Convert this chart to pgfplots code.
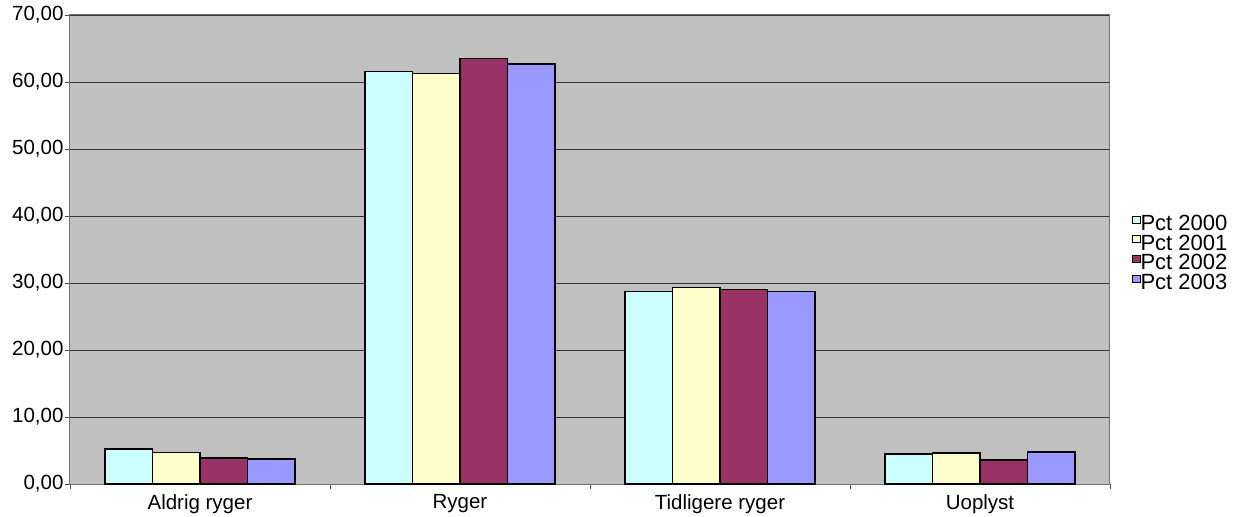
\documentclass[border=0pt]{standalone}
\usepackage{pgfplots}
\pgfplotsset{compat=1.18}
\usepackage{fontspec}
\setmainfont{Liberation Sans}
\definecolor{cA}{HTML}{CCFFFF}
\definecolor{cB}{HTML}{FFFFCC}
\definecolor{cC}{HTML}{993366}
\definecolor{cD}{HTML}{9999FF}
\definecolor{bg}{HTML}{C0C0C0}
\begin{document}
\begin{tikzpicture}
\begin{axis}[
  scale only axis, width=1040pt, height=469pt,
  ybar=0pt, bar width=0.1827,
  xmin=-0.5, xmax=3.5, ymin=0, ymax=70,
  xtick={0,1,2,3}, xticklabels={Aldrig ryger,Ryger,Tidligere ryger,Uoplyst},
  major x tick style={draw=none},
  minor xtick={-0.5,0.5,1.5,2.5,3.5},
  minor tick length=5pt,
  ytick={0,10,...,70},
  tick align=outside, major tick length=5pt,
  xtick pos=bottom, ytick pos=left,
  ymajorgrids, grid style={draw=black!80, line width=0.9pt},
  axis background/.style={fill=bg},
  axis line style={draw=black!55, line width=1pt},
  tick style={draw=black!70, line width=0.8pt},
  tick label style={font=\fontsize{20.5}{22}\selectfont},
  /pgf/number format/fixed, /pgf/number format/fixed zerofill,
  /pgf/number format/precision=2, /pgf/number format/use comma,
  /pgf/number format/assume math mode=true,
  xticklabel style={yshift=-2pt},
  yticklabel style={xshift=2pt},
  legend style={at={(1.018,0.488)}, anchor=west, draw=none, fill=none,
    font=\fontsize{22}{22}\selectfont, row sep=0pt,
    nodes={inner sep=0pt, text height=12pt, text depth=5pt}},
  legend cell align=left,
  legend image code/.code={\draw[#1, draw=black, line width=0.6pt] (0pt,4pt) rectangle (8pt,11pt);},
  every axis plot/.append style={draw=black, line width=1.5pt},
  /tikz/every even column/.append style={column sep=3pt},
]
\addplot[fill=cA] coordinates {(0,5.2) (1,61.6) (2,28.7) (3,4.5)};
\addplot[fill=cB] coordinates {(0,4.7) (1,61.3) (2,29.3) (3,4.6)};
\addplot[fill=cC] coordinates {(0,3.9) (1,63.5) (2,29.0) (3,3.6)};
\addplot[fill=cD] coordinates {(0,3.7) (1,62.7) (2,28.7) (3,4.8)};
\legend{Pct 2000,Pct 2001,Pct 2002,Pct 2003}
\end{axis}
\pgfresetboundingbox
\path (-70pt,-33pt) rectangle (1165pt,484pt);
\end{tikzpicture}
\end{document}
